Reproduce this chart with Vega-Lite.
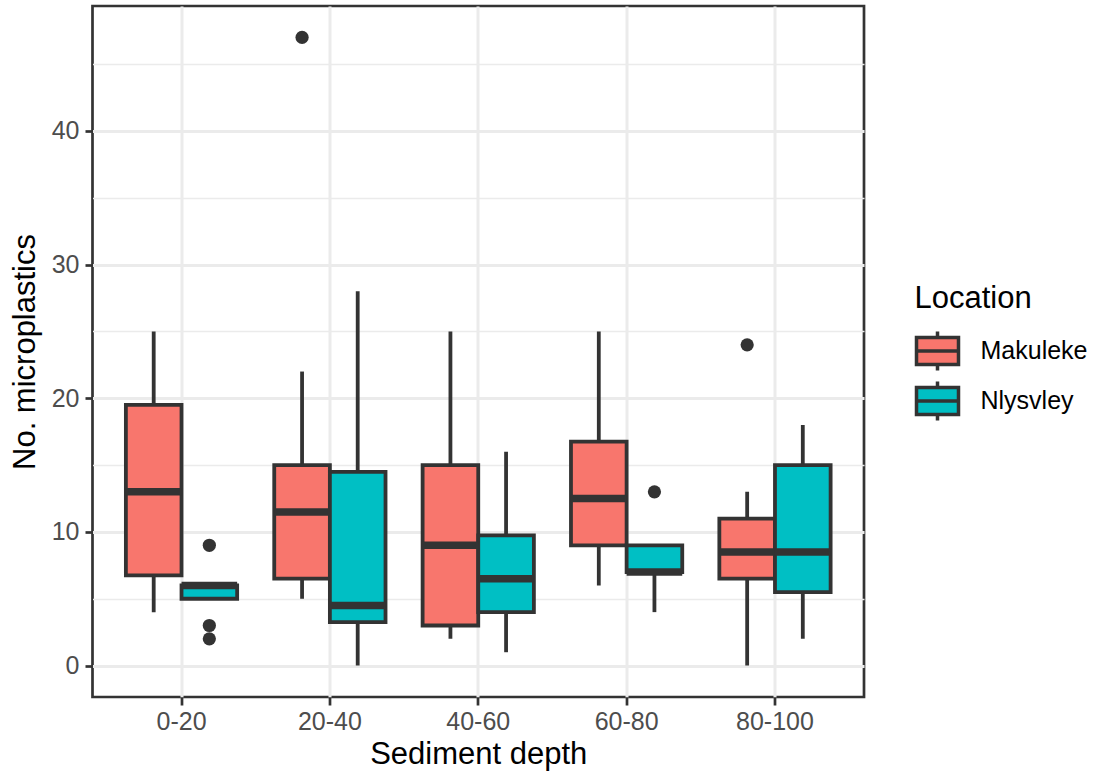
{
  "$schema": "https://vega.github.io/schema/vega-lite/v6.json",
  "width": 771.5,
  "height": 691,
  "padding": {"left": 8.5, "top": 6, "right": 5, "bottom": 5},
  "background": "white",
  "config": {
    "font": "Liberation Sans",
    "view": {"stroke": "#333333", "strokeWidth": 2.7}
  },
  "datasets": {
    "boxes": [
      {"depth": "0-20", "Location": "Makuleke", "lo": 4, "q1": 6.75, "med": 13, "q3": 19.5, "hi": 25},
      {"depth": "0-20", "Location": "Nlysvley", "lo": 5, "q1": 5, "med": 6, "q3": 6, "hi": 6},
      {"depth": "20-40", "Location": "Makuleke", "lo": 5, "q1": 6.5, "med": 11.5, "q3": 15, "hi": 22},
      {"depth": "20-40", "Location": "Nlysvley", "lo": 0, "q1": 3.25, "med": 4.5, "q3": 14.5, "hi": 28},
      {"depth": "40-60", "Location": "Makuleke", "lo": 2, "q1": 3, "med": 9, "q3": 15, "hi": 25},
      {"depth": "40-60", "Location": "Nlysvley", "lo": 1, "q1": 4, "med": 6.5, "q3": 9.75, "hi": 16},
      {"depth": "60-80", "Location": "Makuleke", "lo": 6, "q1": 9, "med": 12.5, "q3": 16.75, "hi": 25},
      {"depth": "60-80", "Location": "Nlysvley", "lo": 4, "q1": 7, "med": 7, "q3": 9, "hi": 9},
      {"depth": "80-100", "Location": "Makuleke", "lo": 0, "q1": 6.5, "med": 8.5, "q3": 11, "hi": 13},
      {"depth": "80-100", "Location": "Nlysvley", "lo": 2, "q1": 5.5, "med": 8.5, "q3": 15, "hi": 18}
    ],
    "outliers": [
      {"depth": "0-20", "Location": "Nlysvley", "value": 9},
      {"depth": "0-20", "Location": "Nlysvley", "value": 3},
      {"depth": "0-20", "Location": "Nlysvley", "value": 2},
      {"depth": "20-40", "Location": "Makuleke", "value": 47},
      {"depth": "60-80", "Location": "Nlysvley", "value": 13},
      {"depth": "80-100", "Location": "Makuleke", "value": 24}
    ]
  },
  "encoding": {
    "x": {
      "field": "depth",
      "type": "nominal",
      "scale": {"domain": ["0-20", "20-40", "40-60", "60-80", "80-100"], "paddingInner": 0.25, "paddingOuter": 0.225},
      "axis": {
        "title": "Sediment depth",
        "titleFontSize": 31,
        "titleFontWeight": "normal",
        "titleColor": "black",
        "titlePadding": 5,
        "labelFontSize": 25,
        "labelColor": "#4D4D4D",
        "labelAngle": 0,
        "labelPadding": 4,
        "tickColor": "#333333",
        "tickWidth": 2.7,
        "tickSize": 8,
        "domain": false,
        "grid": true,
        "gridColor": "#EBEBEB",
        "gridWidth": 3,
        "bandPosition": 0.5
      }
    },
    "xOffset": {
      "field": "Location",
      "type": "nominal",
      "scale": {"domain": ["Makuleke", "Nlysvley"], "paddingInner": 0, "paddingOuter": 0}
    }
  },
  "layer": [
    {
      "data": {"name": "boxes"},
      "mark": {"type": "rule", "color": "#333333", "strokeWidth": 3.8},
      "encoding": {
        "y": {
          "field": "lo",
          "type": "quantitative",
          "scale": {"domain": [-2.35, 49.35], "nice": false, "zero": false},
          "axis": {
            "values": [5, 15, 25, 35, 45],
            "orient": "right",
            "grid": true,
            "gridColor": "#EBEBEB",
            "gridWidth": 1.6,
            "labels": false,
            "ticks": false,
            "domain": false,
            "title": null
          }
        },
        "y2": {"field": "hi"}
      }
    },
    {
      "data": {"name": "boxes"},
      "mark": {"type": "bar", "stroke": "#333333", "strokeWidth": 3.8, "opacity": 1},
      "encoding": {
        "y": {
          "field": "q1",
          "type": "quantitative",
          "axis": {
            "values": [0, 10, 20, 30, 40],
            "orient": "left",
            "title": "No. microplastics",
            "titleFontSize": 31,
            "titleFontWeight": "normal",
            "titleColor": "black",
            "titlePadding": 10,
            "labelFontSize": 25,
            "labelColor": "#4D4D4D",
            "labelPadding": 6,
            "tickColor": "#333333",
            "tickWidth": 2.7,
            "tickSize": 7.5,
            "domain": false,
            "grid": true,
            "gridColor": "#EBEBEB",
            "gridWidth": 3
          }
        },
        "y2": {"field": "q3"},
        "fill": {
          "field": "Location",
          "type": "nominal",
          "scale": {"domain": ["Makuleke", "Nlysvley"], "range": ["#F8766D", "#00BFC4"]},
          "legend": {
            "title": "Location",
            "orient": "none",
            "legendX": 822,
            "legendY": 278,
            "titleFontSize": 31,
            "titleFontWeight": "normal",
            "titleColor": "black",
            "titlePadding": 13,
            "labelFontSize": 25,
            "labelColor": "black",
            "labelOffset": 20,
            "symbolType": "M-1,-0.643H1V0.643H-1ZM-1,0H1M0,-0.643V-0.93M0,0.643V0.93",
            "symbolSize": 1764,
            "symbolStrokeColor": "#333333",
            "symbolStrokeWidth": 3.5,
            "symbolOpacity": 1,
            "rowPadding": -4
          }
        }
      }
    },
    {
      "data": {"name": "boxes"},
      "mark": {"type": "tick", "color": "#333333", "thickness": 7.5, "size": 55.6, "opacity": 1},
      "encoding": {
        "y": {"field": "med", "type": "quantitative", "axis": null}
      }
    },
    {
      "data": {"name": "outliers"},
      "mark": {"type": "point", "filled": true, "color": "#333333", "size": 175, "opacity": 1},
      "encoding": {
        "y": {"field": "value", "type": "quantitative", "axis": null}
      }
    }
  ],
  "resolve": {"axis": {"y": "independent"}}
}
